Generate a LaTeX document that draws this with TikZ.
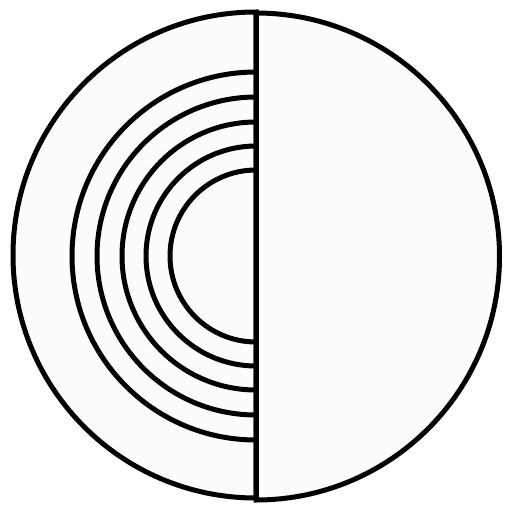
\documentclass[tikz,border=0pt]{standalone}
\begin{document}
\begin{tikzpicture}[x=1pt,y=-1pt,
  ln/.style={line width=5pt, draw=black},
  half/.style={ln, fill=black!1}]
\useasboundingbox (0,0) rectangle (512,512);
% left half
\path[half] (256,12) arc[start angle=-90, end angle=-270, radius=243] -- cycle;
% right half
\path[half] (256,13) arc[start angle=-90, end angle=90, radius=243.5] -- cycle;
% inner arcs
\foreach \r in {184,159,134,110,86}{
  \draw[ln] (256,256-\r) arc[start angle=-90, end angle=-270, radius=\r];
}
\coordinate (top) at (256,10);
\coordinate (bot) at (256,502);
\draw[ln] (top) -- (bot);
\end{tikzpicture}
\end{document}
